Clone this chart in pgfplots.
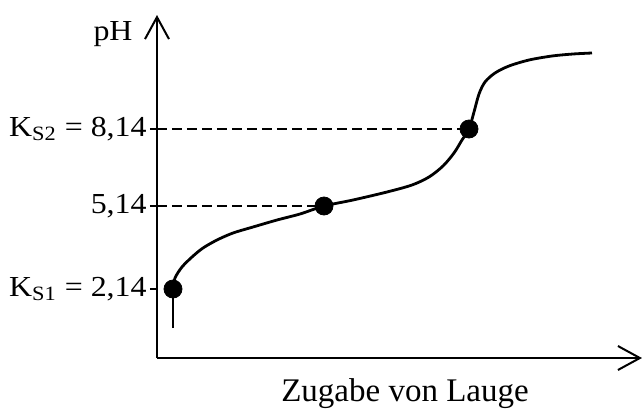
\documentclass[border=0pt]{standalone}
\usepackage{fontspec}
\setmainfont{Liberation Serif}
\usepackage{graphicx}
\usepackage{pgfplots}
\pgfplotsset{compat=1.18}
\usetikzlibrary{arrows.meta}
\newcommand\tl[1]{\scalebox{1.1}[1]{#1}}
\begin{document}
\begin{tikzpicture}
\begin{axis}[
  scale only axis,
  x=0.5pt, y=0.5pt,
  xmin=0, xmax=485, ymin=0, ymax=343,
  axis lines=left,
  axis line style={line width=1pt, -{Straight Barb[length=11pt,width=12pt,line width=1pt]}},
  clip=false,
  xtick=\empty,
  ytick={69,152,229},
  yticklabels={{\tl{K\textsubscript{S1} = 2,14}},{\tl{5,14}},{\tl{K\textsubscript{S2} = 8,14}}},
  tick align=outside,
  major tick length=3.5pt,
  tick style={line width=0.6pt, black},
  yticklabel style={font=\fontsize{14.5}{16}\selectfont, inner sep=1.5pt},
]
\addplot[line width=1.4pt, black] coordinates {(16,30) (16,69)};
\addplot[line width=1.4pt, black, smooth, tension=0.5] coordinates {
(16,69) (18,80) (25,91) (35,101) (46,110) (60,118) (76,125) (96,131) (120,138) (143,144) (167,152)
(196,158) (230,166) (255,173) (272,181) (286,192) (297,205) (305,218) (312,229) (317,246) (322,264) (328,276)
(338,285) (352,292) (372,298) (395,302) (416,304) (435,305)};
\addplot[line width=0.7pt, black, dash pattern=on 5pt off 2.5pt] coordinates {(0,229) (312,229)};
\addplot[line width=0.7pt, black, dash pattern=on 5pt off 2.5pt] coordinates {(0,152) (167,152)};
\addplot[only marks, mark=*, mark size=4.5pt, black] coordinates {(16,69) (167,152) (312,229)};
\node[anchor=base, font=\fontsize{14.5}{16}\selectfont] at (axis cs:-44,318) {\tl{pH}};
\node[anchor=base, font=\fontsize{16.5}{18}\selectfont] at (axis cs:248,-43) {Zugabe von Lauge};
\coordinate (bl) at (axis cs:-157,-51);
\coordinate (tr) at (axis cs:485,358);
\end{axis}
\pgfresetboundingbox
\useasboundingbox (bl) rectangle (tr);
\end{tikzpicture}
\end{document}
